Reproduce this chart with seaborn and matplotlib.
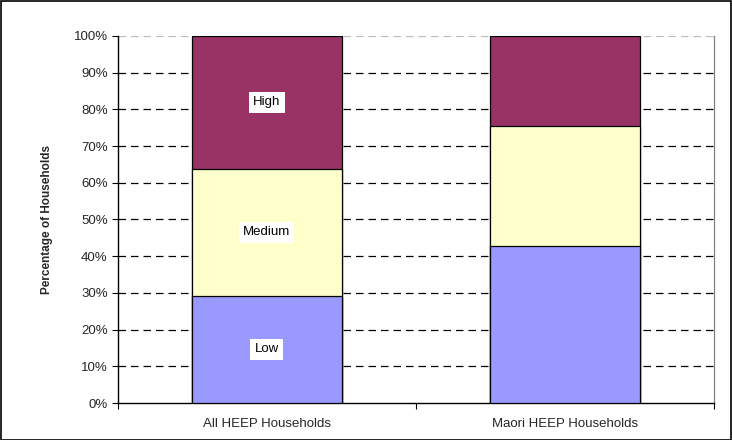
import matplotlib
matplotlib.use("Agg")
import matplotlib.pyplot as plt
import seaborn as sns
import pandas as pd
import numpy as np
from matplotlib.patches import Rectangle

categories = ["All HEEP Households", "Maori HEEP Households"]
low = [29.2, 42.8]
medium = [34.6, 32.7]
high = [36.2, 24.5]
segment_names = ["Low", "Medium", "High"]
yticks = list(range(0, 101, 10))

sns.set_theme(style="white")
plt.rcParams['font.family'] = ['Liberation Sans', 'DejaVu Sans']

fig = plt.figure(figsize=(7.32, 4.40), dpi=100)
ax = fig.add_axes([117.5/732, 1 - 403/440, (714-117.5)/732, (403-36)/440])

cum_lm = [l + m for l, m in zip(low, medium)]
cum_all = [l + m + h for l, m, h in zip(low, medium, high)]

for vals, col in [(cum_all, "#993366"), (cum_lm, "#FFFFCC"), (low, "#9999FF")]:
    df = pd.DataFrame({"cat": categories, "val": vals})
    sns.barplot(data=df, x="cat", y="val", color=col, saturation=1, width=0.503,
                edgecolor="black", linewidth=0.9, ax=ax, zorder=3)

ax.set_ylim(0, 100)
ax.set_xlim(-0.5, 1.5)
ax.set_yticks(yticks)
ax.set_yticklabels([f"{t}%" for t in yticks], fontsize=9.5)
ax.set_xticks([0, 1])
ax.set_xticklabels(categories, fontsize=9.5)
ax.set_xticks([-0.5, 0.5, 1.5], minor=True)
ax.tick_params(axis="x", which="major", length=0, pad=11)
ax.tick_params(axis="x", which="minor", length=4, width=0.8, color="black", direction="out", bottom=True)
ax.tick_params(axis="y", length=4, width=0.8, color="black", direction="out", left=True, pad=3)
ax.set_xlabel("")
ax.set_ylabel("Percentage of Households", fontsize=8.5, fontweight="bold", labelpad=15)

for t in yticks[1:]:
    ax.axhline(t, color="#bbbbbb" if t == 100 else "black", linestyle=(0, (6, 4)),
               linewidth=0.9, zorder=1)

for s in ["left", "bottom"]:
    ax.spines[s].set_color("black")
    ax.spines[s].set_linewidth(1.0)
ax.spines["right"].set_color("#808080")
ax.spines["right"].set_linewidth(0.9)
ax.spines["top"].set_visible(False)

label_pos = [low[0] / 2, low[0] + medium[0] / 2, cum_lm[0] + high[0] / 2]
for name, y in zip(segment_names, label_pos):
    ax.text(0, y, name, ha="center", va="center", fontsize=9.5, color="black", zorder=5,
            bbox=dict(facecolor="white", edgecolor="none", pad=3))

fig.patches.append(Rectangle((0.5/732, 0.5/440), 1 - 1.5/732, 1 - 1.5/440, transform=fig.transFigure,
                             fill=False, edgecolor="black", linewidth=1.2))

fig.savefig("out.png", dpi=100)
